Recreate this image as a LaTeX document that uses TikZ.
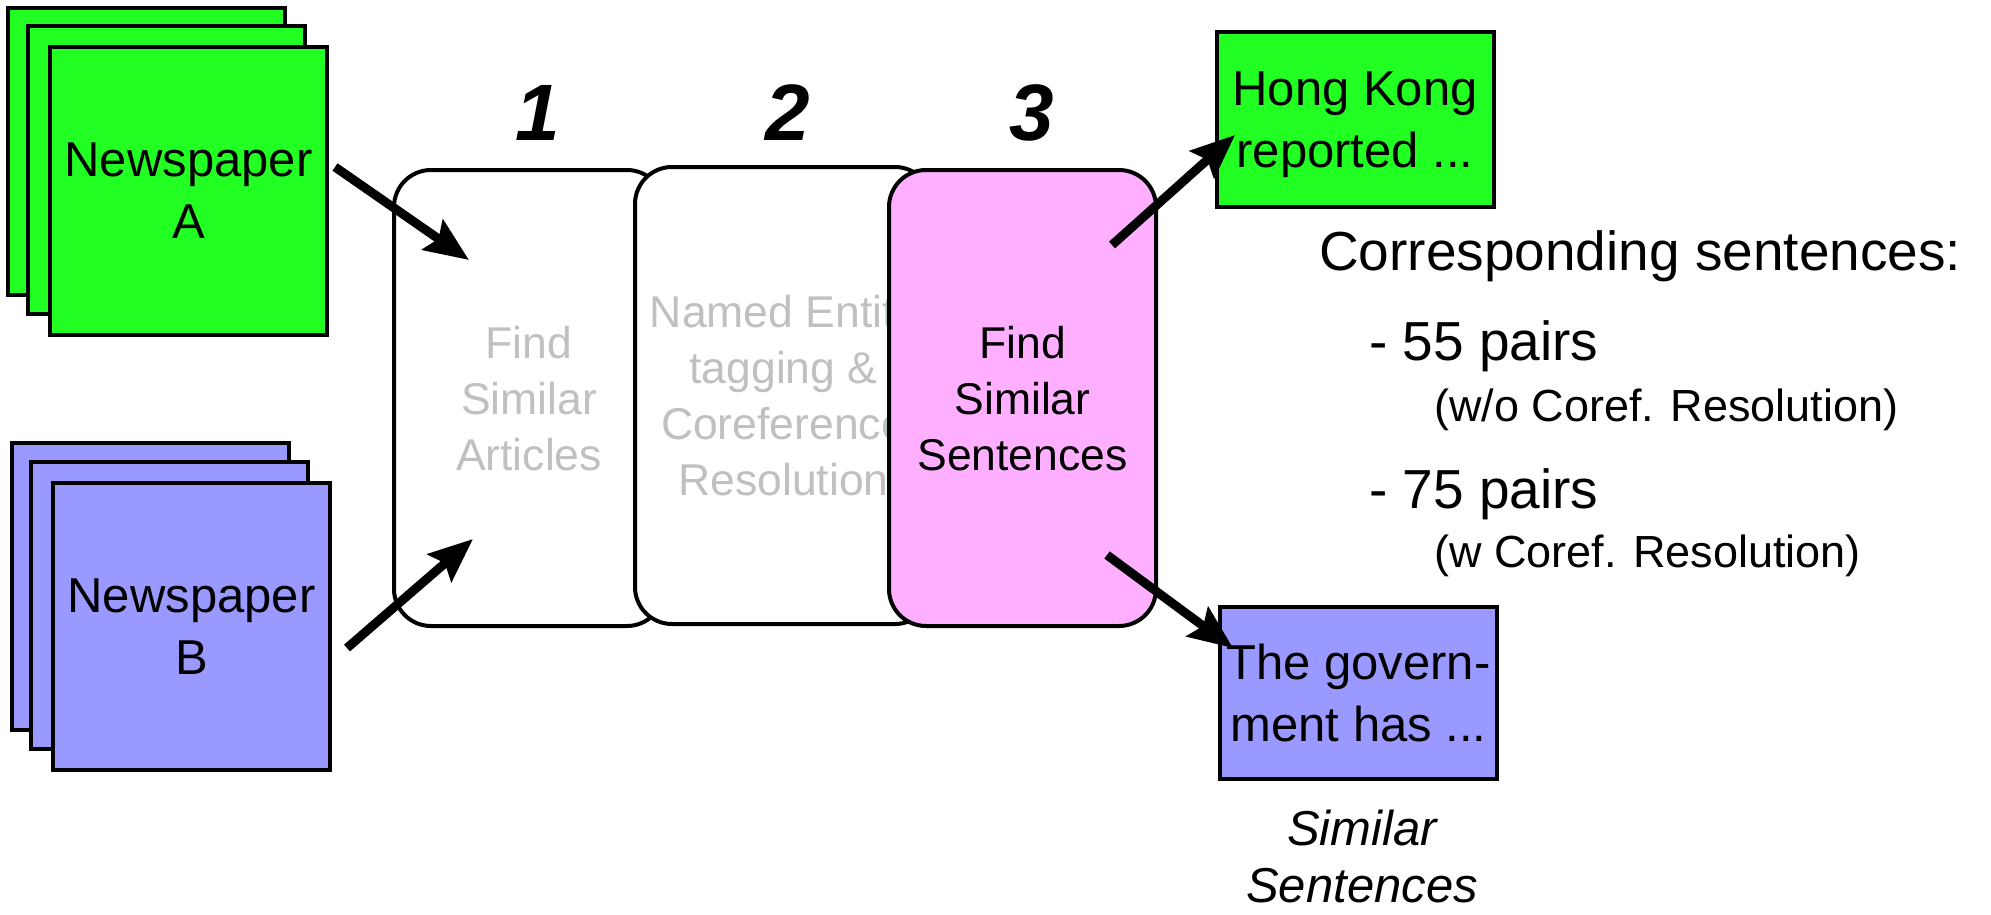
\documentclass[tikz,border=0pt]{standalone}
\usepackage{fontspec}
\setmainfont{Liberation Sans}
\usetikzlibrary{arrows.meta}

\definecolor{paperA}{RGB}{34,255,34}
\definecolor{paperB}{RGB}{153,153,255}
\definecolor{stagepink}{RGB}{255,175,255}
\definecolor{fadedtext}{RGB}{192,192,192}

\newcommand{\sheetfont}{\fontsize{49}{62}\selectfont}
\newcommand{\stagefont}{\fontsize{44.5}{56}\selectfont}
\newcommand{\numfont}{\fontsize{80}{80}\selectfont\bfseries\itshape}
\newcommand{\headfont}{\fontsize{55}{60}\selectfont}
\newcommand{\pairfont}{\fontsize{55}{60}\selectfont}
\newcommand{\notefont}{\fontsize{45}{50}\selectfont}

\begin{document}
\begin{tikzpicture}[x=1pt,y=-1pt,
  sheet/.style={draw=black, line width=4pt, minimum width=277pt,
    minimum height=287pt, inner sep=0pt, align=center, font=\sheetfont,
    text depth=0pt},
  stage/.style={draw=black, line width=4pt, rounded corners=37pt,
    inner sep=0pt, align=center, font=\stagefont, text depth=0pt},
  outbox/.style={draw=black, line width=4pt, inner sep=0pt,
    minimum width=277pt, align=center, font=\sheetfont, text depth=0pt},
  flow/.style={line width=9pt,
    -{Stealth[length=44pt, width=36pt, inset=7pt]}},
  stagenum/.style={anchor=base, font=\numfont, inner sep=0pt},
  note/.style={anchor=base west, inner sep=0pt}]

\useasboundingbox (0,0) rectangle (1991,915);

% newspaper A stack
\node[sheet, fill=paperA] (backA) at (146.5,151.5) {};
\node[sheet, fill=paperA] (midA)  at (166.5,170) {};
\node[sheet, fill=paperA] (frontA) at (188.5,191) {Newspaper\\A};

% newspaper B stack
\node[sheet, fill=paperB] (backB) at (150,586.5) {};
\node[sheet, fill=paperB] (midB)  at (169.5,605) {};
\node[sheet, fill=paperB] (frontB) at (191.5,626.5) {Newspaper\\B};

% the three processing stages, each one over the previous
\node[stage, fill=white, minimum width=270pt, minimum height=456pt,
  text=fadedtext] (stage1) at (529,398) {Find\\Similar\\Articles};
\node[stage, fill=white, minimum width=297pt, minimum height=457pt,
  text=fadedtext] (stage2) at (783.5,395.5)
  {Named Entity\\tagging \&\\Coreference\\Resolution};
\node[stage, fill=stagepink, minimum width=267pt, minimum height=456pt]
  (stage3) at (1022.5,398) {Find\\Similar\\Sentences};

% stage numbers
\node[stagenum] (n1) at (538,140) {1};
\node[stagenum] (n2) at (788,140) {2};
\node[stagenum] (n3) at (1032,140) {3};

% output sentences
\node[outbox, fill=paperA, minimum height=175pt] (outA) at (1355,119.5)
  {Hong Kong\\reported ...};
\node[outbox, fill=paperB, minimum height=172pt] (outB) at (1358.5,693)
  {The govern-\\ment has ...};
\node[align=center, font=\fontsize{49}{57}\selectfont\itshape,
  inner sep=0pt, text depth=0pt] (outlabel) at (1362,856)
  {Similar\\Sentences};

% result counts
\node[note, font=\headfont] (count) at (1319,270) {Corresponding sentences:};
\node[note, font=\pairfont] (p55) at (1369,360) {- 55 pairs};
\node[note, font=\notefont] (p55n) at (1434,421) {(w/o Coref. Resolution)};
\node[note, font=\pairfont] (p75) at (1369,508) {- 75 pairs};
\node[note, font=\notefont] (p75n) at (1434,567) {(w Coref. Resolution)};

% connector end points
\coordinate (fromA) at (335,167);
\coordinate (intoA) at (469,260);
\coordinate (fromB) at (347,648);
\coordinate (intoB) at (473,539);
\coordinate (outUp) at (1112,245);
\coordinate (hitA)  at (1235,135);
\coordinate (outDn) at (1107,555);
\coordinate (hitB)  at (1233,648);

\draw[flow] (fromA) -- (intoA);
\draw[flow] (fromB) -- (intoB);
\draw[flow] (outUp) -- (hitA);
\draw[flow] (outDn) -- (hitB);
\end{tikzpicture}
\end{document}
